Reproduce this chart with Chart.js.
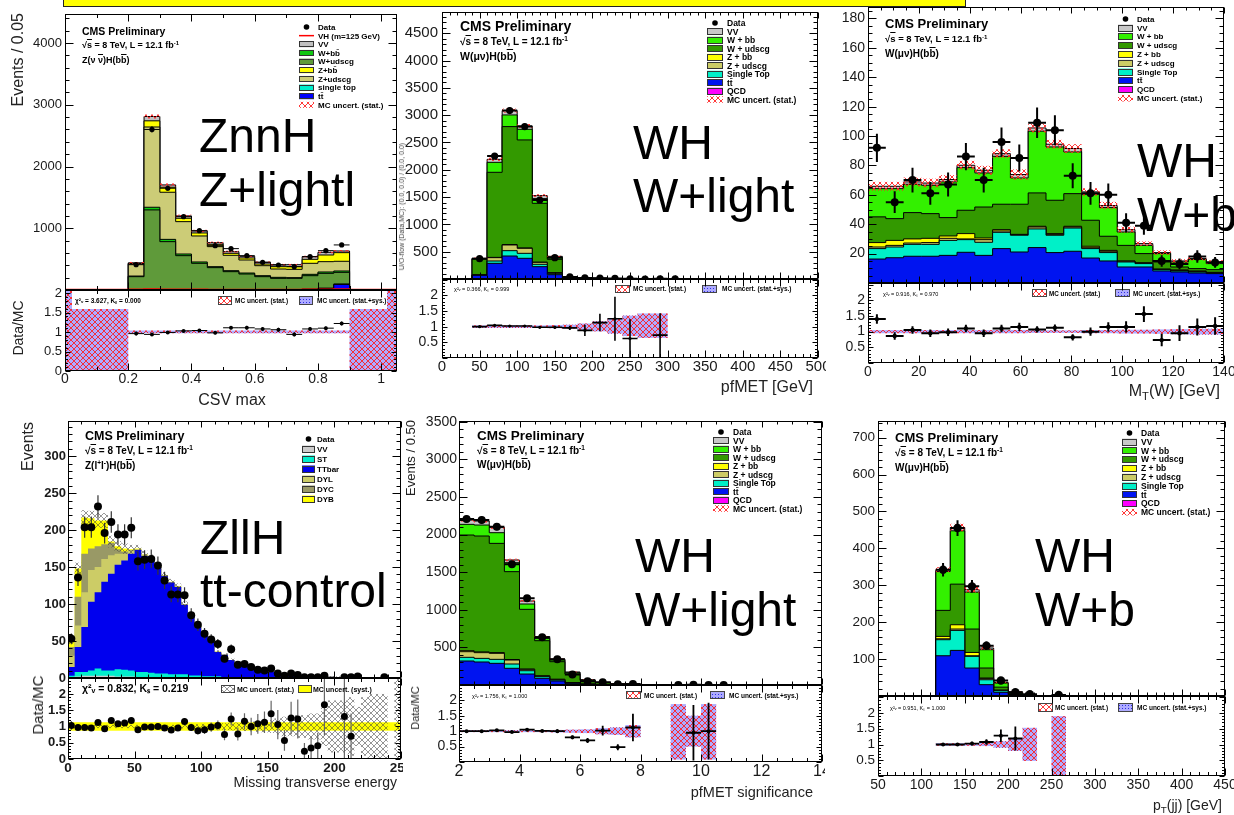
<!DOCTYPE html>
<html lang="en">
<head>
<meta charset="utf-8">
<title>VH(bb) control distributions</title>
<script src="https://cdn.jsdelivr.net/npm/chart.js@4.4.1/dist/chart.umd.min.js"></script>
<style>
  html, body { margin: 0; padding: 0; background: #fff; }
  body { width: 1234px; height: 815px; position: relative; overflow: hidden;
         font-family: "Liberation Sans", Arial, Helvetica, sans-serif; color: #000; }
  .pane { position: absolute; overflow: hidden; }
  .pane canvas { position: absolute; }
  .t { position: absolute; white-space: nowrap; line-height: 1; }
  .ov { text-decoration: overline; }
  .sup { font-size: 65%; position: relative; top: -0.5em; }
  .sub { font-size: 70%; position: relative; top: 0.3em; }
  #banner { position: absolute; left: 63px; top: -2px; width: 901px; height: 7px;
            background: #ffff00; border: 1px solid #222; }
</style>
</head>
<body>
<div id="banner"></div>
<script>
const FONT = "'Liberation Sans', Arial, Helvetica, sans-serif";
Chart.defaults.font.family = FONT;

// ===== Z(nu nu)H(bb): CSV max =====
const csvEdges   = [0.20,0.25,0.30,0.35,0.40,0.45,0.50,0.55,0.60,0.65,0.70,0.75,0.80,0.85,0.90];
const csvTT      = [2,5,3,2,2,2,2,2,2,2,3,10,25,90];
const csvST      = [0,0,0,0,0,0,0,0,0,0,0,3,5,8];
const csvWudscg  = [214,1292,780,554,430,360,295,257,214,187,186,219,240,188];
const csvWbb     = [10,43,37,27,22,16,16,16,16,16,11,22,22,22];
const csvZudscg  = [194,1300,763,524,421,324,249,211,162,135,135,178,167,157];
const csvZbb     = [10,100,81,55,49,38,32,33,27,38,43,65,108,140];
const csvVV      = [10,70,38,38,32,27,27,27,28,32,32,43,43,27];
const csvData    = [410,2600,1648,1188,961,718,670,556,449,405,378,540,637,730];
const csvDataErr = [20,51,41,34,31,27,26,24,21,20,19,23,25,27];
const csvStat    = [14,32,24,20,18,16,15,14,13,13,13,14,15,15];
const csvRatio    = [0.96,0.94,0.99,1.03,1.04,0.98,1.11,1.11,1.08,1.06,0.94,1.08,1.10,1.22];
const csvRatioErr = [0.05,0.02,0.03,0.03,0.035,0.04,0.045,0.05,0.05,0.05,0.05,0.05,0.045,0.05];
const csvBandEdges = [0,0.05,0.10,0.15,0.20,0.25,0.30,0.35,0.40,0.45,0.50,0.55,0.60,0.65,0.70,0.75,0.80,0.85,0.90,0.95,1.00,1.05];
const csvBandLo  = [0,0,0,0,0.97,0.97,0.97,0.97,0.97,0.97,0.97,0.97,0.97,0.97,0.97,0.97,0.97,0.97,0,0,0];
const csvBandHi  = [2.2,2.2,2.2,2.2,1.04,1.04,1.04,1.04,1.04,1.04,1.04,1.04,1.04,1.04,1.04,1.04,1.04,1.04,2.2,2.2,2.2];
const csvVH      = [6,6,6,6,8,14,10,8,7,6,6,6,6,6,6,8,10,12,6,6,6];
const csvXTicks  = [0,0.2,0.4,0.6,0.8,1];
const csvYTicks  = [1000,2000,3000,4000];

// ===== W(mu nu)H(bb): pfMET, W+light region =====
const metEdges   = [40,60,80,100,120,140,160,180,200,220,240,260,280,300,320];
const metQCD     = [0,1,1,1,0,0,0,0,0,0,0,0,0,0];
const metTT      = [67,286,420,378,226,79,8,4,3,2,1,1,1,0];
const metST      = [5,43,98,91,43,19,2,1,1,0,0,0,0,0];
const metZudscg  = [5,61,104,92,36,18,2,1,1,1,0,0,0,0];
const metZbb     = [1,5,8,7,3,1,0,0,0,0,0,0,0,0];
const metWudscg  = [290,1558,2160,1978,1078,243,22,13,7,5,4,2,2,0];
const metWbb     = [8,183,214,195,86,37,4,2,1,1,1,1,1,0];
const metVV      = [3,55,79,61,55,18,2,1,1,0,0,0,0,0];
const metData    = [372,2253,3084,2791,1447,391,38,19,16,11,4,0,3,2];
const metDataErr = [19,47,56,53,38,20,6,4,4,3,2,0,2,1.4];
const metStat    = [12,30,38,36,26,12,4,3,2,2,1.5,1.5,1.5,0];
const metRatio    = [1.00,1.04,1.02,1.02,0.98,0.98,0.96,0.88,1.13,1.25,0.62,null,0.73,null];
const metRatioErr = [0.03,0.02,0.02,0.02,0.03,0.05,0.07,0.18,0.28,0.70,0.62,null,0.70,null];
const metBandLo  = [0.96,0.96,0.96,0.96,0.96,0.95,0.94,0.90,0.85,0.78,0.70,0.64,0.64,null];
const metBandHi  = [1.04,1.04,1.04,1.04,1.04,1.05,1.06,1.10,1.17,1.25,1.35,1.42,1.42,null];
const metXTicks  = [0,50,100,150,200,250,300,350,400,450,500];
const metYTicks  = [500,1000,1500,2000,2500,3000,3500,4000,4500];

// ===== W(mu nu)H(bb): M_T(W), W+b region =====
const mtEdges   = [0,7,14,21,28,35,42,49,56,63,70,77,84,91,98,105,112,119,126,133,140];
const mtTT      = [16.3,17.2,18.2,18.2,18.8,20.9,18.8,23.4,21.1,24.1,20.7,21.6,17.0,15.0,10.9,10.9,8.2,7.5,6.8,6.4];
const mtST      = [7.1,7.3,8.1,8.1,10.2,8.6,8.9,11.1,11.4,12.7,11.8,15.8,6.4,5.7,3.4,2.3,0.9,0.7,0.7,0.4];
const mtZudscg  = [1.1,1.1,0.9,1.2,1.4,0.5,1.8,0.9,0.4,1.3,0.6,0.7,0.6,0.9,0.5,0.3,0.2,0.2,0.2,0.2];
const mtZbb     = [3.0,3.4,2.8,2.9,1.6,3.6,1.1,0.9,0.2,0.5,0.5,0.5,1.0,0.6,0.2,0.3,0.2,0.5,0.5,0.3];
const mtWudscg  = [17.5,14.8,17.9,16.8,12.5,15.9,21.1,17.3,20.5,22.7,22.7,22.2,17.7,9.6,10.6,6.2,4.8,2.0,1.6,1.8];
const mtWbb     = [19.2,20.4,19.3,19.3,24.3,29.0,23.2,32.6,17.9,42.0,36.3,28.4,17.7,19.5,9.1,5.6,5.7,3.4,6.3,4.1];
const mtVV      = [1.6,1.6,1.6,1.5,1.6,1.6,1.8,1.8,2.3,2.2,1.8,2.3,1.6,1.4,1.6,1.2,0.7,0.7,0.5,1.1];
const mtData    = [92,55,70,61,67,86,70,96,85,109,104,73,61,60,41,39,15,13,18,14];
const mtDataErr = [9.6,7.4,8.4,7.8,8.2,9.3,8.4,9.8,9.2,10.4,10.2,8.5,7.8,7.7,6.4,6.2,3.9,3.6,4.2,3.7];
const mtStat    = [3,3,3,3,3,3,3,3,3.5,3,3,3,2.5,2.5,2,1.5,1.5,1.2,1.2,1.2];
const mtRatio    = [1.40,0.86,1.05,0.95,0.98,1.10,0.95,1.10,1.15,1.07,1.12,0.82,1.00,1.15,1.15,1.56,0.73,0.95,1.15,1.18];
const mtRatioErr = [0.15,0.12,0.12,0.12,0.12,0.12,0.12,0.12,0.13,0.10,0.11,0.10,0.13,0.15,0.18,0.25,0.20,0.25,0.27,0.28];
const mtBandLo  = [0.95,0.95,0.95,0.95,0.95,0.95,0.95,0.95,0.95,0.96,0.96,0.96,0.95,0.95,0.94,0.94,0.93,0.92,0.91,0.91];
const mtBandHi  = [1.05,1.05,1.05,1.05,1.05,1.05,1.05,1.05,1.05,1.04,1.04,1.04,1.05,1.05,1.06,1.06,1.07,1.08,1.09,1.09];
const mtXTicks  = [0,20,40,60,80,100,120,140];
const mtYTicks  = [20,40,60,80,100,120,140,160,180];

// ===== Z(ll)H(bb): missing transverse energy, ttbar control =====
const llEdges = [0,5,10,15,20,25,30,35,40,45,50,55,60,65,70,75,80,85,90,95,100,105,110,115,120,125,130,135,140,145,150,155,160,165,170,175,180,185,190,195,200,205,210,215,220,225,230,235,240,245,250];
const llVV  = [1,2,3,3,3,3,3,2,2,2, 1,1,1,1,1,1,1,1,0.5,0.5, 0.5,0.5,0.3,0.3,0.3,0.2,0.2,0.2,0.1,0.1, 0.1,0.1,0,0,0,0,0,0,0,0, 0,0,0,0,0,0,0,0,0,0];
const llST  = [2,6,5,7,10,7,7,10,9,8, 7,7,6,5,5,4,4,4,3,3, 2,2,2,1,1,1,1,0.8,0.6,0.5, 0.4,0.3,0.3,0.2,0.2,0.2,0.1,0.1,0.1,0.1, 0.1,0.1,0,0,0,0,0,0,0,0];
const llTT  = [12,34,61,93,103,120,131,141,148,158, 165,157,153,144,132,124,118,94,83,66, 58,50,33,30,23,19,16,14,11.3,9.4, 7.5,6,5.2,4.4,3.6,3.1,2.8,2.3,1.7,1.5, 1.3,1.0,1.0,0.8,0.6,0.5,0.4,0.3,0.2,0.2];
const llDYL = [15,29,47,43,34,31,25,15,9,4, 1,1,1,0.5,0.5,0.5,0.5,0.3,0.3,0.3, 0.2,0.2,0.2,0.2,0.1,0.1,0.1,0.1,0.1,0.1, 0,0,0,0,0,0,0,0,0,0, 0,0,0,0,0,0,0,0,0,0];
const llDYC = [12,39,52,29,28,20,17,6,3,1, 0.5,0.5,0.5,0.3,0.3,0.3,0.2,0.2,0.2,0.2, 0,0,0,0,0,0,0,0,0,0, 0,0,0,0,0,0,0,0,0,0, 0,0,0,0,0,0,0,0,0,0];
const llDYB = [8,38,49,41,35,32,1.5,4,4,1, 0.5,0.5,0.5,0.3,0.3,0.2,0.2,0.2,0.1,0.1, 0,0,0,0,0,0,0,0,0,0, 0,0,0,0,0,0,0,0,0,0, 0,0,0,0,0,0,0,0,0,0];
const llData    = [53,136,204,204,232,196,211,194,194,203, 158,160,161,152,132,113,113,112,85,72, 60,52,46,26,39,18,19,15,11,10, 13,6,3,6,4,1,1,1,3,null, null,1,1,2,null,null,null,1,null,null];
const llDataErr = [7.3,11.7,14.3,14.3,15.2,14,14.5,13.9,13.9,14.2, 12.6,12.6,12.7,12.3,11.5,10.6,10.6,10.6,9.2,8.5, 7.7,7.2,6.8,5.1,6.2,4.2,4.4,3.9,3.3,3.2, 3.6,2.4,1.7,2.4,2,1,1,1,1.7,null, null,1,1,1.4,null,null,null,1,null,null];
const llStat    = [4,8,10,10,10,10,8,7,7,6, 5,5,5,5,4,4,4,4,3,3, 3,3,2,2,2,2,2,1.5,1.5,1.5, 1,1,1,1,1,1,1,1,1,1, 1,1,1,1,0.5,0.5,0.5,0.5,0.5,0.5];
const llRatio    = [1.03,0.97,0.97,0.95,1.12,0.93,1.18,1.08,1.11,1.18, 0.90,0.98,0.98,1.00,0.95,0.89,0.95,1.15,0.97,0.87, 0.90,0.98,1.03,0.75,1.23,0.77,1.16,1.00,1.08,1.13, 1.39,1.06,0.57,1.26,1.23,0.24,0.34,0.41,1.67,null, null,1.31,0.70,null,null,null,null,null,null,null];
const llRatioErr = [0.14,0.09,0.07,0.07,0.07,0.07,0.07,0.07,0.07,0.07, 0.08,0.08,0.08,0.08,0.09,0.09,0.09,0.10,0.11,0.12, 0.13,0.14,0.15,0.17,0.20,0.20,0.25,0.27,0.30,0.33, 0.40,0.45,0.32,0.50,0.60,0.25,0.35,0.40,0.95,null, null,1.30,0.70,null,null,null,null,null,null,null];
const llBandStat = [0.05,0.05,0.05,0.05,0.05,0.05,0.05,0.05,0.05,0.05, 0.05,0.05,0.05,0.05,0.05,0.05,0.06,0.06,0.06,0.07, 0.08,0.08,0.10,0.10,0.12,0.12,0.14,0.15,0.17,0.18, 0.20,0.25,0.30,0.30,0.35,0.35,0.40,0.40,0.60,0.80, 0.80,0.80,0.90,0.60,0.90,1.00,1.00,1.00,0,1.50];
const llSystEdges = [0,250];
const llSystLo   = [0.87];
const llSystHi   = [1.13];
const llXTicks   = [0,50,100,150,200,250];
const llYTicks   = [0,50,100,150,200,250,300];

// ===== W(mu nu)H(bb): pfMET significance, W+light region =====
const sigEdges   = [2,2.5,3,3.5,4,4.5,5,5.5,6,6.5,7,7.5,8,8.5,9,9.5,10,10.5,11];
const sigTT      = [319,306,288,222,146,89,53,22,8,4,2,1,0,0,0.3,0.5,0.3,0];
const sigST      = [49,48,53,57,44,22,13,6,2,1,1,0,0,0,0,0,0,0];
const sigZudscg  = [75,76,80,53,18,9,9,4,2,1,1,0,0,0,0,0,0,0];
const sigZbb     = [13,10,10,7,4,2,1,1,0,0,0,0,0,0,0,0,0,0];
const sigWudscg  = [1538,1541,1452,1168,794,467,234,113,50,25,12,9,0,0,1,1.2,0.7,0];
const sigWbb     = [142,146,142,119,71,31,22,18,5,3,1,1,0,0,0.2,0.3,0.2,0];
const sigVV      = [57,53,71,36,40,23,14,9,3,1,1,1,0,0,0,0,0,0];
const sigData    = [2207,2193,2105,1604,1152,634,341,138,49,35,9,13,null,null,0,2,1,0];
const sigDataErr = [47,47,46,40,34,25,18,12,7,6,3,3.6,null,null,0,1.4,1,0];
const sigStat    = [20,20,20,17,14,10,7,5,3,2,1.5,1.2,0,0,0.5,0.5,0.5,0];
const sigRatio    = [1.00,1.00,1.03,0.97,1.05,1.01,1.00,0.80,0.70,1.02,0.48,1.12,null,null,null,0.95,1.00,null];
const sigRatioErr = [0.02,0.02,0.02,0.03,0.03,0.04,0.06,0.06,0.08,0.16,0.10,0.45,null,null,null,0.90,0.92,null];
const sigBandLo  = [0.97,0.97,0.97,0.97,0.97,0.97,0.96,0.95,0.94,0.90,0.88,0.80,null,null,0.08,0.50,0.08,null];
const sigBandHi  = [1.03,1.03,1.03,1.03,1.03,1.03,1.04,1.05,1.06,1.10,1.12,1.20,null,null,1.88,1.50,1.88,null];
const sigXTicks  = [2,4,6,8,10,12,14];
const sigYTicks  = [500,1000,1500,2000,2500,3000,3500];

// ===== W(mu nu)H(bb): pT(jj), W+b region =====
const ptEdges    = [116.67,133.33,150,166.67,183.33,200,216.67,233.33,250,266.67];
const ptTT       = [109,123.6,75.8,30.7,10,3,0.5,0,0];
const ptST       = [43.5,54.1,31.6,13.3,4.4,1,0.2,0,0];
const ptZudscg   = [2.5,3.7,1.6,3,1,0.3,0,0,0];
const ptZbb      = [6.5,11.6,9,1.7,0.6,0.2,0,0,0];
const ptWudscg   = [70.5,110,63.4,27.1,8,2.5,0.3,0,0];
const ptWbb      = [105.5,144.5,100.1,49.6,11,3.5,0.5,0,0.5];
const ptVV       = [4.5,9,6.5,4.6,2,0.5,0,0,0];
const ptData     = [342,455,297,136,42,10,5,null,3];
const ptDataErr  = [18.5,21.3,17.2,11.7,6.5,3.2,2.2,null,1.7];
const ptStat     = [7,10,8,5,2.5,1.5,0.7,0,0.5];
const ptRatio    = [1.00,1.00,1.03,1.08,1.28,1.19,null,null,null];
const ptRatioErr = [0.05,0.05,0.06,0.09,0.20,0.38,null,null,null];
const ptBandLo   = [0.96,0.96,0.96,0.95,0.90,0.80,0.48,null,0.00];
const ptBandHi   = [1.04,1.04,1.04,1.05,1.10,1.20,1.53,null,1.90];
const ptXTicks   = [50,100,150,200,250,300,350,400,450];
const ptYTicks   = [100,200,300,400,500,600,700];

// shared ratio-pad tick labels
const ratioTicksFull = [0,0.5,1,1.5,2];
const ratioTicks     = [0.5,1,1.5,2];

// legend labels
const wLabels  = ['Data','VV','W + bb','W + udscg','Z + bb','Z + udscg','Single Top','tt\u0304','QCD','MC uncert. (stat.)'];
const csvLabels = ['Data','VH (m=125 GeV)','VV','W+bb\u0304','W+udscg','Z+bb\u0304','Z+udscg','single top','tt\u0304','MC uncert. (stat.)'];
const llLabels = ['Data','VV','ST','TTbar','DYL','DYC','DYB'];

// ---------- fill patterns ----------
function makePattern(kind) {
  const c = document.createElement('canvas');
  const g = c.getContext('2d');
  if (kind === 'blue') {
    c.width = c.height = 3;
    g.fillStyle = 'rgba(125,120,255,0.62)'; g.fillRect(0, 0, 3, 3);
    g.fillStyle = 'rgba(40,40,225,0.95)'; g.fillRect(1, 1, 1, 1);
  } else {
    c.width = c.height = 6;
    g.strokeStyle = kind === 'red' ? 'rgba(255,35,35,0.9)' : 'rgba(60,60,60,0.55)';
    g.lineWidth = 1;
    g.beginPath(); g.moveTo(0, 0); g.lineTo(6, 6); g.moveTo(6, 0); g.lineTo(0, 6); g.stroke();
  }
  return g.createPattern(c, 'repeat');
}
const PAT = { red: makePattern('red'), blue: makePattern('blue'), black: makePattern('black') };

// ---------- ROOT-style decorations: bands, error bars, frame, ticks, legends ----------
function tickLoop(min, max, minor, major, fn) {
  const n0 = Math.ceil(min / minor - 1e-6), n1 = Math.floor(max / minor + 1e-6);
  for (let n = n0; n <= n1; n++) {
    const v = n * minor, r = v / major;
    fn(v, Math.abs(r - Math.round(r)) < 1e-6);
  }
}
function drawItems(ctx, off, items) {
  items.forEach(it => {
    const x = it.x - off[0], y = it.y - off[1];
    if (it.k === 'rect') { ctx.fillStyle = it.fill; ctx.fillRect(x, y, it.w, it.h); }
    else if (it.k === 'sw') {
      it.fills.forEach(f => { ctx.fillStyle = f; ctx.fillRect(x, y, it.w, it.h); });
      if (it.stroke) { ctx.strokeStyle = it.stroke; ctx.lineWidth = 1;
        ctx.strokeRect(Math.round(x) + 0.5, Math.round(y) + 0.5, Math.round(it.w) - 1, Math.round(it.h) - 1); }
    }
    else if (it.k === 'dot') { ctx.fillStyle = '#000'; ctx.beginPath(); ctx.arc(x, y, it.r, 0, Math.PI * 2); ctx.fill(); }
    else if (it.k === 'line') { ctx.strokeStyle = it.color; ctx.lineWidth = it.lw; ctx.beginPath(); ctx.moveTo(x, y); ctx.lineTo(x + it.w, y); ctx.stroke(); }
    else if (it.k === 'txt') { ctx.fillStyle = it.color || '#000'; ctx.font = it.font; ctx.textAlign = 'left'; ctx.textBaseline = 'alphabetic'; ctx.fillText(it.t, x, y); }
  });
}
const rootDecor = {
  id: 'rootDecor',
  beforeDatasetDraw(chart, args, o) {
    if (args.index !== 0) return;
    const { ctx, chartArea: a } = chart;
    const xs = chart.scales.x, ys = chart.scales.y;
    ctx.save();
    ctx.beginPath(); ctx.rect(a.left, a.top, a.right - a.left, a.bottom - a.top); ctx.clip();
    (o.bands || []).forEach(b => {
      for (let i = 0; i < b.lo.length; i++) {
        const lo = b.lo[i], hi = b.hi[i];
        if (lo == null || hi == null || !(hi > lo)) continue;
        const x0 = xs.getPixelForValue(b.edges[i]), x1 = xs.getPixelForValue(b.edges[i + 1]);
        const y0 = ys.getPixelForValue(hi), y1 = ys.getPixelForValue(lo);
        b.fills.forEach(f => { ctx.fillStyle = f; ctx.fillRect(x0, y0, x1 - x0, y1 - y0); });
      }
    });
    (o.errors || []).forEach(e => {
      ctx.strokeStyle = e.color; ctx.lineWidth = e.lw;
      ctx.beginPath();
      for (let i = 0; i < e.y.length; i++) {
        const v = e.y[i]; if (v == null) continue;
        const cx = xs.getPixelForValue(e.x[i]), cy = ys.getPixelForValue(v);
        const d = e.err ? e.err[i] : 0;
        if (d) { ctx.moveTo(cx, ys.getPixelForValue(v - d)); ctx.lineTo(cx, ys.getPixelForValue(v + d)); }
        if (e.hw) { ctx.moveTo(xs.getPixelForValue(e.x[i] - e.hw), cy); ctx.lineTo(xs.getPixelForValue(e.x[i] + e.hw), cy); }
      }
      ctx.stroke();
    });
    ctx.restore();
  },
  afterDraw(chart, args, o) {
    const { ctx, chartArea: a } = chart;
    const xs = chart.scales.x, ys = chart.scales.y;
    ctx.save();
    drawItems(ctx, o.off, o.items || []);
    const L = Math.round(a.left) + 0.5, R = Math.round(a.right) - 0.5;
    const T = Math.round(a.top) + 0.5, B = Math.round(a.bottom) - 0.5;
    ctx.strokeStyle = '#000'; ctx.lineWidth = 1;
    ctx.strokeRect(L, T, R - L, B - T);
    const tk = o.ticks;
    if (tk) {
      ctx.beginPath();
      tickLoop(xs.min, xs.max, tk.x[0], tk.x[1], (v, major) => {
        const px = Math.round(xs.getPixelForValue(v)) + 0.5, len = major ? tk.x[3] : tk.x[2];
        ctx.moveTo(px, B); ctx.lineTo(px, B - len);
        ctx.moveTo(px, T); ctx.lineTo(px, T + len);
      });
      tickLoop(ys.min, ys.max, tk.y[0], tk.y[1], (v, major) => {
        const py = Math.round(ys.getPixelForValue(v)) + 0.5, len = major ? tk.y[3] : tk.y[2];
        ctx.moveTo(L, py); ctx.lineTo(L + len, py);
        ctx.moveTo(R, py); ctx.lineTo(R - len, py);
      });
      ctx.stroke();
    }
    ctx.restore();
  }
};

// ---------- builders ----------
function stack(edges, comps, outline) {
  const n = edges.length - 1;
  let cum = new Array(n).fill(0);
  const sets = comps.map(c => {
    cum = cum.map((s, i) => s + (c.v[i] || 0));
    const pts = [{ x: edges[0], y: 0 }];
    for (let i = 0; i < n; i++) pts.push({ x: edges[i], y: cum[i] });
    pts.push({ x: edges[n], y: cum[n - 1] }, { x: edges[n], y: 0 });
    return { type: 'line', data: pts, stepped: 'before', fill: 'origin', backgroundColor: c.color,
             borderColor: outline || 'rgba(0,0,0,0)', borderWidth: outline ? 1 : 0, pointRadius: 0, tension: 0 };
  });
  return { sets, total: cum };
}
function stepLine(edges, vals, color, width) {
  const pts = vals.map((v, i) => ({ x: edges[i], y: v }));
  pts.push({ x: edges[edges.length - 1], y: vals[vals.length - 1] });
  return { type: 'line', data: pts, stepped: 'before', fill: false, borderColor: color, borderWidth: width, pointRadius: 0 };
}
function pointSet(xs, ys, r) {
  return { type: 'scatter', data: xs.map((x, i) => ({ x, y: ys[i] })).filter(p => p.y != null),
           pointRadius: r, backgroundColor: '#000', borderWidth: 0, pointStyle: 'circle' };
}
function legendItems(sx, tx, y0, dy, sw, sh, size, labels, styles) {
  const out = [];
  labels.forEach((label, i) => {
    const cy = y0 + i * dy, s = styles[i];
    if (s.kind === 'dot') out.push({ k: 'dot', x: sx + sw / 2, y: cy, r: 2.8 });
    else if (s.kind === 'line') out.push({ k: 'line', x: sx, y: cy, w: sw, color: s.color, lw: 1.5 });
    else if (s.kind === 'pat') out.push({ k: 'sw', x: sx, y: cy - sh / 2, w: sw, h: sh, fills: s.fills, stroke: null });
    else out.push({ k: 'sw', x: sx, y: cy - sh / 2, w: sw, h: sh, fills: [s.color], stroke: '#333' });
    out.push({ k: 'txt', x: tx, y: cy + size * 0.36, t: label, font: `bold ${size}px ${FONT}` });
  });
  return out;
}
function ratioLegend(chi, chiX, base, chiFont, sw1, t1X, sw2, t2X, swY, swW, swH, font, fill1, fill2, t2) {
  return [
    { k: 'txt', x: chiX, y: base, t: chi, font: chiFont },
    { k: 'sw', x: sw1, y: swY, w: swW, h: swH, fills: fill1, stroke: '#444' },
    { k: 'txt', x: t1X, y: base, t: 'MC uncert. (stat.)', font },
    { k: 'sw', x: sw2, y: swY, w: swW, h: swH, fills: fill2, stroke: '#444' },
    { k: 'txt', x: t2X, y: base, t: t2, font }
  ];
}

function makeChart(pane, box, c) {
  const L = 72, R = 22, T = 16, B = 36;
  const [fx, fy, fw, fh] = c.frame;
  const cv = document.createElement('canvas');
  cv.width = fw + L + R; cv.height = fh + T + B;
  cv.style.left = (fx - L - box[0]) + 'px';
  cv.style.top = (fy - T - box[1]) + 'px';
  cv.style.width = cv.width + 'px'; cv.style.height = cv.height + 'px';
  pane.appendChild(cv);
  c.decor.off = [fx - L, fy - T];
  const weight = c.bold ? 'bold' : 'normal';
  const fmt = v => String(v);
  new Chart(cv, {
    type: 'scatter',
    data: { datasets: c.datasets },
    options: {
      responsive: false, maintainAspectRatio: false, animation: false, devicePixelRatio: 1, events: [],
      layout: { padding: { left: 0, right: R, top: T, bottom: 0 } },
      plugins: { legend: { display: false }, tooltip: { enabled: false }, rootDecor: c.decor },
      scales: {
        x: { type: 'linear', position: 'bottom', min: c.x[0], max: c.x[1],
             grid: { display: false, drawTicks: false }, border: { display: false },
             afterFit: s => { s.height = B; },
             afterBuildTicks: s => { s.ticks = c.xTicks.map(v => ({ value: v })); },
             ticks: { display: !!c.showX, autoSkip: false, maxRotation: 0, minRotation: 0, padding: c.xPad || 0,
                      color: '#1a1a1a', font: { family: FONT, size: c.xFont || 14, weight }, callback: fmt } },
        y: { type: 'linear', position: 'left', min: c.y[0], max: c.y[1],
             grid: { display: false, drawTicks: false }, border: { display: false },
             afterFit: s => { s.width = L; },
             afterBuildTicks: s => { s.ticks = c.yTicks.map(v => ({ value: v })); },
             ticks: { autoSkip: false, padding: c.yPad || 3, color: '#1a1a1a',
                      font: { family: FONT, size: c.yFont || 14, weight }, callback: fmt } }
      }
    },
    plugins: [rootDecor]
  });
}
function addText(pane, box, t) {
  const d = document.createElement('div');
  d.className = 't';
  d.innerHTML = t.html;
  d.style.fontSize = t.size + 'px';
  if (t.bold) d.style.fontWeight = 'bold';
  if (t.color) d.style.color = t.color;
  d.style.left = (t.x - box[0]) + 'px';
  if (t.rot) {
    d.style.top = (t.y - box[1]) + 'px';
    d.style.transformOrigin = '0 0';
    d.style.transform = 'rotate(-90deg) translateX(' + (t.anchor === 'mid' ? '-50%' : '-100%') + ')';
  } else {
    d.style.top = (t.y - 0.8465 * t.size - box[1]) + 'px';
    if (t.anchor === 'end') d.style.transform = 'translateX(-100%)';
    if (t.anchor === 'mid') d.style.transform = 'translateX(-50%)';
  }
  pane.appendChild(d);
}
function histPanel(s) {
  const st = stack(s.edges, s.comps, s.outline);
  const centers = s.edges.slice(0, -1).map((e, i) => (e + s.edges[i + 1]) / 2);
  const main = {
    frame: s.mainFrame, x: s.xRange, y: s.yRange, xTicks: s.xTicks, showX: false, yTicks: s.yTicks,
    yFont: s.yFont, yPad: s.yPad, bold: s.bold,
    datasets: [pointSet(centers, s.data, s.dataR), ...(s.extra || []), ...st.sets],
    decor: {
      bands: [{ edges: s.edges,
                lo: st.total.map((t, i) => t > 0 ? t - s.stat[i] : null),
                hi: st.total.map((t, i) => t > 0 ? t + s.stat[i] : null), fills: [s.hatch] }],
      errors: [{ x: centers, y: s.data, err: s.dataErr, hw: s.dataHw, color: s.errColor || '#000', lw: s.errLw }],
      ticks: s.mainTicks, items: s.legend
    }
  };
  const ratio = {
    frame: s.ratioFrame, x: s.xRange, y: s.rRange, xTicks: s.xTicks, showX: true, xFont: s.xFont, xPad: s.xPad,
    yTicks: s.rTicks, yFont: s.rFont, yPad: s.yPad, bold: s.bold,
    datasets: [pointSet(centers, s.ratio, s.ratioR)],
    decor: {
      bands: s.ratioBands,
      errors: [{ x: centers, y: s.ratio, err: s.ratioErr, hw: s.ratioHw, color: s.ratioErrColor || '#000', lw: s.ratioLw }],
      ticks: s.ratioTicksCfg, items: s.ratioItems
    }
  };
  const pane = document.createElement('div');
  pane.className = 'pane';
  pane.style.left = s.box[0] + 'px'; pane.style.top = s.box[1] + 'px';
  pane.style.width = s.box[2] + 'px'; pane.style.height = s.box[3] + 'px';
  document.body.appendChild(pane);
  makeChart(pane, s.box, main);
  makeChart(pane, s.box, ratio);
  s.texts.forEach(t => addText(pane, s.box, t));
}

// ---------- colours ----------
const C = { vv: '#c8c8c8', wbb: '#33f000', wud: '#339900', zbb: '#ffff00', zud: '#cccc66',
            st: '#00f0c8', tt: '#0014f0', qcd: '#ff00ff' };
const wStyles = [{ kind: 'dot' }, { color: C.vv }, { color: C.wbb }, { color: C.wud }, { color: C.zbb },
                 { color: C.zud }, { color: C.st }, { color: C.tt }, { color: C.qcd }, { kind: 'pat', fills: [PAT.red] }];
const wComps = (qcd, tt, st, zud, zbb, wud, wbb, vv) => [
  { v: qcd, color: C.qcd }, { v: tt, color: C.tt }, { v: st, color: C.st }, { v: zud, color: C.zud },
  { v: zbb, color: C.zbb }, { v: wud, color: C.wud }, { v: wbb, color: C.wbb }, { v: vv, color: C.vv }];
const zeros = n => new Array(n).fill(0);
const cmsLine = '&radic;<span class="ov">s</span> = 8 TeV, L = 12.1 fb<span class="sup">-1</span>';
const wmunu = 'W(&mu;&nu;)H(b<span class="ov">b</span>)';

// ---------- 1: Z(nu nu)H, CSV max ----------
const csvCol = { tt: '#0000ff', st: '#00eecc', wud: '#5f9a3a', wbb: '#10c810', zud: '#cccc77', zbb: '#ffff00', vv: '#c0c0c0' };
histPanel({
  box: [0, 0, 398, 408],
  mainFrame: [65, 14, 332, 276], ratioFrame: [65, 290, 332, 81],
  xRange: [0, 1.05], yRange: [0, 4470], rRange: [0, 2.08],
  edges: csvEdges, outline: '#000',
  comps: [{ v: csvTT, color: csvCol.tt }, { v: csvST, color: csvCol.st }, { v: csvWudscg, color: csvCol.wud },
          { v: csvWbb, color: csvCol.wbb }, { v: csvZudscg, color: csvCol.zud }, { v: csvZbb, color: csvCol.zbb },
          { v: csvVV, color: csvCol.vv }],
  extra: [stepLine(csvBandEdges, csvVH, '#ff0000', 2)],
  data: csvData, dataErr: csvDataErr, dataR: 2.6, dataHw: 0.025, errLw: 1,
  stat: csvStat, hatch: PAT.red,
  ratio: csvRatio, ratioErr: csvRatioErr, ratioR: 2, ratioHw: 0.025, ratioLw: 1,
  ratioBands: [{ edges: csvBandEdges, lo: csvBandLo, hi: csvBandHi, fills: [PAT.blue, PAT.red] }],
  xTicks: csvXTicks, yTicks: csvYTicks, rTicks: ratioTicksFull,
  xFont: 14, yFont: 13, rFont: 13, xPad: 0, yPad: 3,
  mainTicks: { x: [0.1, 0.2, 3.5, 7], y: [200, 1000, 4, 8] },
  ratioTicksCfg: { x: [0.1, 0.2, 3.5, 7], y: [0.1, 0.5, 2.5, 5] },
  legend: legendItems(299, 318, 27, 8.65, 15, 6, 8, csvLabels,
    [{ kind: 'dot' }, { kind: 'line', color: '#ff0000' }, { color: csvCol.vv }, { color: csvCol.wbb }, { color: csvCol.wud },
     { color: csvCol.zbb }, { color: csvCol.zud }, { color: csvCol.st }, { color: csvCol.tt }, { kind: 'pat', fills: [PAT.red] }]),
  ratioItems: [{ k: 'rect', x: 72, y: 291, w: 315, h: 18, fill: '#fff' }].concat(
    ratioLegend('\u03C7\u00B2\u1D65 = 3.627, K\u209B = 0.000', 75, 303, `bold 6.5px ${FONT}`,
      218, 235, 299, 317, 296, 14, 9, `bold 6.5px ${FONT}`, [PAT.red], [PAT.blue], 'MC uncert. (stat.+sys.)')),
  texts: [
    { html: 'CMS Preliminary', x: 82, y: 35, size: 10.5, bold: true },
    { html: cmsLine, x: 82, y: 49, size: 9, bold: true },
    { html: 'Z(&nu; <span class="ov">&nu;</span>)H(b<span class="ov">b</span>)', x: 82, y: 64, size: 9, bold: true },
    { html: 'ZnnH', x: 199, y: 153, size: 48 },
    { html: 'Z+lightl', x: 199, y: 207, size: 48 },
    { html: 'Events / 0.05', x: 10, y: 13, size: 16, rot: true, anchor: 'end', color: '#222' },
    { html: 'Data/MC', x: 11, y: 328, size: 14, rot: true, anchor: 'mid', color: '#222' },
    { html: 'CSV max', x: 232, y: 406, size: 16, anchor: 'mid', color: '#222' }
  ]
});

// ---------- 2: W(mu nu)H, pfMET ----------
histPanel({
  box: [398, 0, 428, 400],
  mainFrame: [442, 12, 376, 267], ratioFrame: [442, 279, 376, 79],
  xRange: [0, 500], yRange: [0, 4890], rRange: [0, 2.52],
  edges: metEdges, outline: '#000',
  comps: wComps(metQCD, metTT, metST, metZudscg, metZbb, metWudscg, metWbb, metVV),
  data: metData, dataErr: metDataErr, dataR: 3.6, dataHw: 10, errLw: 2,
  stat: metStat, hatch: PAT.red,
  ratio: metRatio, ratioErr: metRatioErr, ratioR: 1.6, ratioHw: 10, ratioLw: 1.6,
  ratioBands: [{ edges: metEdges, lo: metBandLo, hi: metBandHi, fills: [PAT.blue, PAT.red] }],
  xTicks: metXTicks, yTicks: metYTicks, rTicks: ratioTicks,
  xFont: 15, yFont: 15, rFont: 14, xPad: 0, yPad: 4,
  mainTicks: { x: [10, 50, 3, 6], y: [100, 500, 4, 8] },
  ratioTicksCfg: { x: [10, 50, 3.5, 7], y: [0.1, 0.5, 2.5, 5] },
  legend: legendItems(707, 727, 23, 8.5, 16, 6.5, 8.5, wLabels, wStyles),
  ratioItems: ratioLegend('\u03C7\u00B2\u1D65 = 0.366, K\u209B = 0.999', 454, 291, `5.5px ${FONT}`,
    615, 633, 702, 722, 285, 15, 8, `bold 6.5px ${FONT}`, [PAT.red], [PAT.blue], 'MC uncert. (stat.+sys.)'),
  texts: [
    { html: 'CMS Preliminary', x: 460, y: 31, size: 14, bold: true },
    { html: cmsLine, x: 460, y: 45, size: 10, bold: true },
    { html: wmunu, x: 460, y: 60, size: 10.5, bold: true },
    { html: 'WH', x: 633, y: 160, size: 48 },
    { html: 'W+light', x: 633, y: 213, size: 48 },
    { html: 'pfMET [GeV]', x: 813, y: 393, size: 16, anchor: 'end', color: '#222' },
    { html: 'U/O-flow (Data,MC): (0.0, 0.0) / (0.0, 0.0)', x: 398, y: 143, size: 7, rot: true, anchor: 'end', color: '#444' }
  ]
});

// ---------- 3: W(mu nu)H, M_T(W) ----------
histPanel({
  box: [826, 0, 408, 400],
  mainFrame: [868, 7, 356, 276], ratioFrame: [868, 283, 356, 80],
  xRange: [0, 140], yRange: [0, 187.8], rRange: [0, 2.55],
  edges: mtEdges, outline: '#000',
  comps: wComps(zeros(20), mtTT, mtST, mtZudscg, mtZbb, mtWudscg, mtWbb, mtVV),
  data: mtData, dataErr: mtDataErr, dataR: 4, dataHw: 3.5, errLw: 2,
  stat: mtStat, hatch: PAT.red,
  ratio: mtRatio, ratioErr: mtRatioErr, ratioR: 2.2, ratioHw: 3.5, ratioLw: 2,
  ratioBands: [{ edges: mtEdges, lo: mtBandLo, hi: mtBandHi, fills: [PAT.blue, PAT.red] }],
  xTicks: mtXTicks, yTicks: mtYTicks, rTicks: ratioTicks,
  xFont: 14, yFont: 14, rFont: 14, xPad: 1, yPad: 3,
  mainTicks: { x: [5, 20, 3, 6], y: [5, 20, 4, 8] },
  ratioTicksCfg: { x: [5, 20, 3.5, 7], y: [0.1, 0.5, 2.5, 5] },
  legend: legendItems(1118, 1137, 19, 8.8, 15, 6.5, 8, wLabels, wStyles),
  ratioItems: ratioLegend('\u03C7\u00B2\u1D65 = 0.916, K\u209B = 0.970', 883, 296, `5.5px ${FONT}`,
    1032, 1049, 1115, 1133, 289, 15, 8, `bold 6.3px ${FONT}`, [PAT.red], [PAT.blue], 'MC uncert. (stat.+sys.)'),
  texts: [
    { html: 'CMS Preliminary', x: 885, y: 28, size: 13, bold: true },
    { html: cmsLine, x: 885, y: 42, size: 9.5, bold: true },
    { html: wmunu, x: 885, y: 57, size: 10, bold: true },
    { html: 'WH', x: 1137, y: 178, size: 48 },
    { html: 'W+b', x: 1137, y: 232, size: 48 },
    { html: 'M<span class="sub">T</span>(W) [GeV]', x: 1220, y: 397, size: 16, anchor: 'end', color: '#222' }
  ]
});

// ---------- 4: Z(ll)H, missing transverse energy ----------
const llCol = { vv: '#cccccc', st: '#00eecc', tt: '#0000ee', dyl: '#cccc66', dyc: '#999966', dyb: '#ffff00' };
histPanel({
  box: [0, 408, 403, 407],
  mainFrame: [68, 421, 333, 257], ratioFrame: [68, 678, 333, 81],
  xRange: [0, 250], yRange: [0, 347.5], rRange: [0, 2.49],
  edges: llEdges, outline: null, bold: true,
  comps: [{ v: llVV, color: llCol.vv }, { v: llST, color: llCol.st }, { v: llTT, color: llCol.tt },
          { v: llDYL, color: llCol.dyl }, { v: llDYC, color: llCol.dyc }, { v: llDYB, color: llCol.dyb }],
  data: llData, dataErr: llDataErr, dataR: 4, dataHw: 0, errLw: 1.2, errColor: '#333',
  stat: llStat, hatch: PAT.black,
  ratio: llRatio, ratioErr: llRatioErr, ratioR: 3.5, ratioHw: 0, ratioLw: 1.2, ratioErrColor: '#666',
  ratioBands: [{ edges: llSystEdges, lo: llSystLo, hi: llSystHi, fills: ['#ffff00'] },
               { edges: llEdges, lo: llBandStat.map(s => 1 - s), hi: llBandStat.map(s => 1 + s), fills: [PAT.black] }],
  xTicks: llXTicks, yTicks: llYTicks, rTicks: ratioTicksFull,
  xFont: 13.5, yFont: 13, rFont: 13, xPad: 1, yPad: 2,
  mainTicks: { x: [10, 50, 3, 6], y: [10, 50, 4, 8] },
  ratioTicksCfg: { x: [10, 50, 3.5, 7], y: [0.1, 0.5, 2.5, 5] },
  legend: legendItems(302, 317, 439, 10, 13, 7, 8, llLabels,
    [{ kind: 'dot' }, { color: llCol.vv }, { color: llCol.st }, { color: llCol.tt }, { color: llCol.dyl }, { color: llCol.dyc }, { color: llCol.dyb }]),
  ratioItems: ratioLegend('\u03C7\u00B2\u1D65 = 0.832, K\u209B = 0.219', 82, 692, `bold 10.5px ${FONT}`,
    221, 237, 298, 313, 685, 14, 8, `bold 7px ${FONT}`, [PAT.black], ['#ffff00'], 'MC uncert. (syst.)'),
  texts: [
    { html: 'CMS Preliminary', x: 85, y: 441, size: 12.5, bold: true },
    { html: cmsLine, x: 85, y: 454, size: 10, bold: true },
    { html: 'Z(l<span class="sup">+</span>l<span class="sup">-</span>)H(b<span class="ov">b</span>)', x: 85, y: 469, size: 10, bold: true },
    { html: 'ZllH', x: 200, y: 555, size: 48 },
    { html: 'tt-control', x: 200, y: 608, size: 48 },
    { html: 'Events', x: 20, y: 422, size: 16, rot: true, anchor: 'end', color: '#222' },
    { html: 'Data/MC', x: 30, y: 705, size: 15, rot: true, anchor: 'mid', color: '#222' },
    { html: 'Missing transverse energy', x: 397, y: 787, size: 14, anchor: 'end', color: '#222' }
  ]
});

// ---------- 5: W(mu nu)H, pfMET significance ----------
histPanel({
  box: [403, 408, 422, 407],
  mainFrame: [459, 421, 363, 264], ratioFrame: [459, 685, 363, 77],
  xRange: [2, 14], yRange: [0, 3510], rRange: [0, 2.5],
  edges: sigEdges, outline: '#000',
  comps: wComps(zeros(18), sigTT, sigST, sigZudscg, sigZbb, sigWudscg, sigWbb, sigVV),
  data: sigData, dataErr: sigDataErr, dataR: 4, dataHw: 0.25, errLw: 2,
  stat: sigStat, hatch: PAT.red,
  ratio: sigRatio, ratioErr: sigRatioErr, ratioR: 2, ratioHw: 0.25, ratioLw: 1.8,
  ratioBands: [{ edges: sigEdges, lo: sigBandLo, hi: sigBandHi, fills: [PAT.blue, PAT.red] }],
  xTicks: sigXTicks, yTicks: sigYTicks, rTicks: ratioTicks,
  xFont: 16, yFont: 14, rFont: 14, xPad: 0, yPad: 2,
  mainTicks: { x: [0.5, 2, 3, 6], y: [100, 500, 4, 8] },
  ratioTicksCfg: { x: [0.5, 2, 3.5, 7], y: [0.1, 0.5, 2.5, 5] },
  legend: legendItems(713, 733, 432, 8.5, 16, 6.5, 8.5, wLabels, wStyles),
  ratioItems: ratioLegend('\u03C7\u00B2\u1D65 = 1.756, K\u209B = 1.000', 472, 698, `5.5px ${FONT}`,
    626, 644, 710, 729, 691, 15, 8, `bold 6.5px ${FONT}`, [PAT.red], [PAT.blue], 'MC uncert. (stat.+sys.)'),
  texts: [
    { html: 'CMS Preliminary', x: 477, y: 440, size: 13.5, bold: true },
    { html: cmsLine, x: 477, y: 454, size: 10, bold: true },
    { html: wmunu, x: 477, y: 468, size: 10, bold: true },
    { html: 'WH', x: 635, y: 573, size: 48 },
    { html: 'W+light', x: 635, y: 627, size: 48 },
    { html: 'Events / 0.50', x: 404, y: 420, size: 13, rot: true, anchor: 'end', color: '#222' },
    { html: 'Data/MC', x: 410, y: 708, size: 11, rot: true, anchor: 'mid', color: '#222' },
    { html: 'pfMET significance', x: 813, y: 797, size: 14.5, anchor: 'end', color: '#222' }
  ]
});

// ---------- 6: W(mu nu)H, pT(jj) ----------
histPanel({
  box: [825, 408, 409, 407],
  mainFrame: [878, 421, 347, 275], ratioFrame: [878, 696, 347, 80],
  xRange: [50, 450], yRange: [0, 745], rRange: [0, 2.54],
  edges: ptEdges, outline: '#000',
  comps: wComps(zeros(9), ptTT, ptST, ptZudscg, ptZbb, ptWudscg, ptWbb, ptVV),
  data: ptData, dataErr: ptDataErr, dataR: 4.2, dataHw: 8.33, errLw: 2,
  stat: ptStat, hatch: PAT.red,
  ratio: ptRatio, ratioErr: ptRatioErr, ratioR: 2, ratioHw: 8.33, ratioLw: 1.8,
  ratioBands: [{ edges: ptEdges, lo: ptBandLo, hi: ptBandHi, fills: [PAT.blue, PAT.red] }],
  xTicks: ptXTicks, yTicks: ptYTicks, rTicks: ratioTicks,
  xFont: 14, yFont: 13.5, rFont: 13.5, xPad: 1, yPad: 3,
  mainTicks: { x: [10, 50, 3, 6], y: [20, 100, 4, 8] },
  ratioTicksCfg: { x: [10, 50, 3.5, 7], y: [0.1, 0.5, 2.5, 5] },
  legend: legendItems(1122, 1141, 433, 8.8, 15, 6.5, 8.5, wLabels, wStyles),
  ratioItems: ratioLegend('\u03C7\u00B2\u1D65 = 0.951, K\u209B = 1.000', 890, 710, `5.5px ${FONT}`,
    1038, 1055, 1118, 1137, 703, 15, 9, `bold 6.5px ${FONT}`, [PAT.red], [PAT.blue], 'MC uncert. (stat.+sys.)'),
  texts: [
    { html: 'CMS Preliminary', x: 895, y: 442, size: 13, bold: true },
    { html: cmsLine, x: 895, y: 456, size: 10, bold: true },
    { html: wmunu, x: 895, y: 471, size: 10, bold: true },
    { html: 'WH', x: 1035, y: 573, size: 48 },
    { html: 'W+b', x: 1035, y: 627, size: 48 },
    { html: 'p<span class="sub">T</span>(jj) [GeV]', x: 1222, y: 810, size: 14, anchor: 'end', color: '#222' }
  ]
});
</script>
</body>
</html>
